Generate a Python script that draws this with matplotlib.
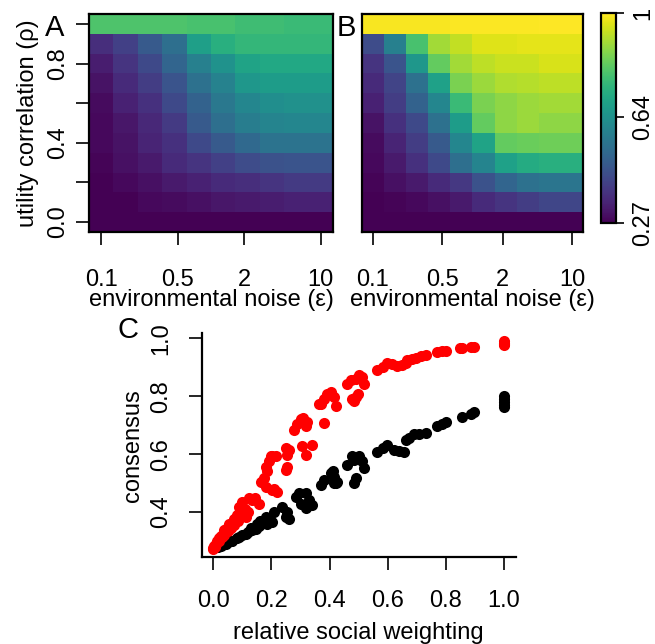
import numpy as np
import matplotlib
matplotlib.use("Agg")
import matplotlib.pyplot as plt

plt.rcParams['font.family'] = ['Liberation Sans', 'DejaVu Sans']
plt.rcParams['font.size'] = 17

# ---- heatmap grid -------------------------------------------------------
noise = [0.1, 0.167, 0.278, 0.464, 0.774, 1.29, 2.15, 3.59, 5.99, 10.0]
rho = [0.0, 0.1, 0.2, 0.3, 0.4, 0.5, 0.6, 0.7, 0.8, 0.9, 1.0]

# consensus, rows = rho (0 -> 1), columns = noise
consensus_A = [
    [0.270, 0.270, 0.270, 0.270, 0.270, 0.270, 0.270, 0.270, 0.270, 0.270],
    [0.270, 0.272, 0.285, 0.292, 0.299, 0.314, 0.321, 0.328, 0.336, 0.336],
    [0.272, 0.285, 0.299, 0.321, 0.336, 0.358, 0.365, 0.380, 0.394, 0.394],
    [0.277, 0.299, 0.321, 0.358, 0.380, 0.409, 0.438, 0.453, 0.460, 0.460],
    [0.285, 0.307, 0.343, 0.372, 0.431, 0.474, 0.518, 0.547, 0.547, 0.547],
    [0.285, 0.314, 0.350, 0.394, 0.474, 0.533, 0.577, 0.599, 0.606, 0.606],
    [0.292, 0.336, 0.372, 0.431, 0.496, 0.562, 0.606, 0.628, 0.635, 0.635],
    [0.307, 0.358, 0.401, 0.460, 0.540, 0.591, 0.657, 0.672, 0.672, 0.672],
    [0.328, 0.380, 0.431, 0.504, 0.584, 0.642, 0.693, 0.708, 0.708, 0.708],
    [0.365, 0.409, 0.474, 0.533, 0.679, 0.730, 0.752, 0.752, 0.752, 0.752],
    [0.796, 0.796, 0.796, 0.796, 0.788, 0.788, 0.774, 0.774, 0.766, 0.766],
]
consensus_B = [
    [0.270, 0.270, 0.270, 0.270, 0.270, 0.270, 0.270, 0.270, 0.270, 0.270],
    [0.270, 0.277, 0.285, 0.299, 0.321, 0.358, 0.380, 0.401, 0.423, 0.423],
    [0.277, 0.299, 0.321, 0.358, 0.387, 0.453, 0.504, 0.540, 0.555, 0.555],
    [0.285, 0.321, 0.372, 0.431, 0.533, 0.599, 0.686, 0.715, 0.730, 0.730],
    [0.292, 0.343, 0.401, 0.474, 0.606, 0.693, 0.825, 0.832, 0.839, 0.839],
    [0.307, 0.372, 0.431, 0.540, 0.672, 0.825, 0.876, 0.891, 0.876, 0.876],
    [0.336, 0.401, 0.496, 0.606, 0.766, 0.854, 0.876, 0.891, 0.898, 0.898],
    [0.358, 0.416, 0.540, 0.686, 0.854, 0.891, 0.912, 0.920, 0.927, 0.927],
    [0.380, 0.460, 0.657, 0.825, 0.898, 0.927, 0.942, 0.942, 0.956, 0.956],
    [0.438, 0.584, 0.788, 0.898, 0.934, 0.964, 0.964, 0.971, 0.971, 0.971],
    [0.993, 0.993, 0.993, 0.993, 0.995, 0.995, 0.997, 0.997, 1.000, 1.000],
]
noise_ticks = [0.1, 0.5, 2, 10]
noise_ticklabels = ["0.1", "0.5", "2", "10"]
rho_ticks = [0.0, 0.2, 0.4, 0.6, 0.8, 1.0]
rho_ticklabels = ["0.0", "", "0.4", "", "0.8", ""]
cbar_ticks = [0.27, 0.64, 1.0]
cbar_ticklabels = ["0.27", "0.64", "1"]

# ---- consensus vs. relative social weighting -----------------------------
red_x = [1.0, 1.0, 1.0, 1.0, 0.897, 0.886, 0.857, 0.849, 0.80, 0.788, 0.771,
         0.73, 0.713, 0.696, 0.684, 0.667, 0.662, 0.650, 0.633, 0.616, 0.599,
         0.582, 0.564, 0.518, 0.513, 0.501, 0.490, 0.461, 0.472, 0.496, 0.49,
         0.484, 0.404, 0.415, 0.421, 0.392, 0.381, 0.369, 0.363, 0.478,
         0.300, 0.289, 0.277, 0.318, 0.381, 0.310, 0.322,
         0.249, 0.255, 0.318, 0.341, 0.306, 0.214, 0.260,
         0.203, 0.191, 0.180, 0.186, 0.249, 0.255, 0.200,
         0.163, 0.180, 0.203, 0.220, 0.174, 0.210,
         0.123, 0.100, 0.088, 0.094, 0.111, 0.134, 0.157, 0.145,
         0.071, 0.054, 0.036, 0.025, 0.014, 0.002, 0.0, 0.0, 0.005, 0.010,
         0.020, 0.030, 0.040, 0.045, 0.060, 0.065, 0.075, 0.080, 0.090, 0.020,
         0.035, 0.050, 0.060, 0.070, 0.085, 0.100, 0.120, 0.110]
red_y = [0.980, 0.985, 0.990, 0.978, 0.971, 0.969, 0.968, 0.966, 0.957, 0.956,
         0.952, 0.942, 0.938, 0.934, 0.930, 0.927, 0.915, 0.907, 0.905, 0.911,
         0.915, 0.901, 0.892, 0.843, 0.866, 0.872, 0.860, 0.843, 0.855, 0.808,
         0.796, 0.782, 0.814, 0.796, 0.767, 0.808, 0.790, 0.773, 0.773, 0.790,
         0.720, 0.703, 0.685, 0.697, 0.709, 0.725, 0.712,
         0.621, 0.598, 0.598, 0.633, 0.627, 0.592, 0.615,
         0.592, 0.575, 0.557, 0.540, 0.545, 0.557, 0.595,
         0.505, 0.487, 0.476, 0.470, 0.516, 0.480,
         0.447, 0.435, 0.417, 0.400, 0.383, 0.441, 0.429, 0.450,
         0.377, 0.359, 0.336, 0.318, 0.301, 0.283, 0.272, 0.275, 0.280, 0.290,
         0.300, 0.315, 0.330, 0.340, 0.350, 0.360, 0.370, 0.390, 0.380, 0.310,
         0.320, 0.335, 0.345, 0.355, 0.370, 0.390, 0.400, 0.410]
black_x = [1.0, 1.0, 1.0, 1.0, 1.0, 0.897, 0.886, 0.857, 0.80, 0.788, 0.771,
           0.73, 0.708, 0.69, 0.673, 0.662, 0.656, 0.639, 0.621, 0.599, 0.582,
           0.564, 0.518, 0.513, 0.501, 0.484, 0.461, 0.478, 0.49, 0.484,
           0.41, 0.415, 0.421, 0.404, 0.381, 0.369, 0.415, 0.427,
           0.283, 0.295, 0.318, 0.329, 0.341, 0.318, 0.300,
           0.237, 0.255, 0.249, 0.260, 0.209, 0.203, 0.186,
           0.180, 0.174, 0.157, 0.146, 0.134,
           0.111, 0.088, 0.065, 0.042, 0.025, 0.008, 0.120, 0.100, 0.080,
           0.060, 0.050, 0.030, 0.015, 0.130, 0.150, 0.160]
black_y = [0.802, 0.790, 0.780, 0.770, 0.762, 0.744, 0.738, 0.729, 0.712, 0.703,
           0.697, 0.674, 0.670, 0.668, 0.656, 0.650, 0.607, 0.612, 0.615, 0.633,
           0.621, 0.607, 0.551, 0.575, 0.592, 0.580, 0.563, 0.592, 0.516, 0.499,
           0.540, 0.522, 0.499, 0.534, 0.510, 0.493, 0.499, 0.505,
           0.452, 0.464, 0.464, 0.441, 0.423, 0.412, 0.429,
           0.417, 0.400, 0.383, 0.377, 0.400, 0.365, 0.359,
           0.383, 0.365, 0.353, 0.342, 0.336,
           0.324, 0.313, 0.301, 0.289, 0.283, 0.278, 0.330, 0.320, 0.310,
           0.300, 0.295, 0.285, 0.280, 0.345, 0.360, 0.370]

# ---- layout (pixel boxes -> figure fractions) ----------------------------
W, H = 655, 644


def box(x0, y0, x1, y1):
    return [x0 / W, 1 - y1 / H, (x1 - x0) / W, (y1 - y0) / H]


fig = plt.figure(figsize=(W / 100, H / 100), dpi=100)
axA = fig.add_axes(box(89, 14, 333, 232))
axB = fig.add_axes(box(361.7, 14, 583.3, 232))
cax = fig.add_axes(box(600.7, 13.3, 615.7, 223.3))
axC = fig.add_axes(box(201.7, 333, 515.7, 557.3))

# cell edges: geometric midpoints along noise, linear along rho
lg = np.log10(noise)
lmid = (lg[:-1] + lg[1:]) / 2
ledge = np.concatenate([[lg[0] - (lmid[0] - lg[0])], lmid, [lg[-1] + (lg[-1] - lmid[-1])]])
x_edges = 10 ** ledge
r = np.asarray(rho)
rmid = (r[:-1] + r[1:]) / 2
y_edges = np.concatenate([[r[0] - (rmid[0] - r[0])], rmid, [r[-1] + (r[-1] - rmid[-1])]])

vmin, vmax = 0.27, 1.0
TICK_LEN = 9.5
for ax, data in ((axA, consensus_A), (axB, consensus_B)):
    mesh = ax.pcolormesh(x_edges, y_edges, np.asarray(data), cmap="viridis",
                         vmin=vmin, vmax=vmax, shading="flat", rasterized=True)
    ax.set_xscale("log")
    ax.set_xlim(x_edges[0], x_edges[-1])
    ax.set_ylim(y_edges[0], y_edges[-1])
    ax.set_xticks(noise_ticks)
    ax.set_xticklabels(noise_ticklabels)
    ax.xaxis.set_minor_locator(matplotlib.ticker.NullLocator())
    ax.tick_params(axis="x", length=TICK_LEN, width=1.2, pad=17, direction="out")
    ax.set_xlabel("environmental noise (\u03b5)", labelpad=-1)
    for sp in ax.spines.values():
        sp.set_linewidth(1.6)

axA.set_yticks(rho_ticks)
axA.set_yticklabels(rho_ticklabels)
axA.tick_params(axis="y", length=TICK_LEN, width=1.2, pad=5, direction="out")
for lbl in axA.get_yticklabels():
    lbl.set_rotation(90)
    lbl.set_va("center")
axA.set_ylabel("utility correlation (\u03c1)", labelpad=6)
axB.set_yticks([])

cb = fig.colorbar(mesh, cax=cax)
cb.outline.set_linewidth(1.6)
cb.set_ticks(cbar_ticks)
cb.set_ticklabels(cbar_ticklabels)
cax.tick_params(axis="y", length=6, width=1.2, pad=6, direction="out")
for lbl in cax.get_yticklabels():
    lbl.set_rotation(90)
    lbl.set_va("center")
    lbl.set_ha("left")

# ---- panel C ------------------------------------------------------------
axC.scatter(black_x, black_y, s=64, c="black", linewidths=0, zorder=3)
axC.scatter(red_x, red_y, s=64, c="#ff0000", linewidths=0, zorder=4)
all_y = np.concatenate([red_y, black_y])
all_x = np.concatenate([red_x, black_x])
ext_y = 0.04 * (all_y.max() - all_y.min())
ext_x = 0.04 * (all_x.max() - all_x.min())
axC.set_xlim(all_x.min() - ext_x, all_x.max() + ext_x)
axC.set_ylim(all_y.min() - ext_y, all_y.max() + ext_y)
axC.set_xticks([0.0, 0.2, 0.4, 0.6, 0.8, 1.0])
axC.set_xticklabels(["0.0", "0.2", "0.4", "0.6", "0.8", "1.0"])
axC.set_yticks([0.4, 0.6, 0.8, 1.0])
axC.set_yticklabels(["0.4", "0.6", "0.8", "1.0"])
axC.tick_params(axis="x", length=TICK_LEN, width=1.2, pad=14, direction="out")
axC.tick_params(axis="y", length=TICK_LEN, width=1.2, pad=12, direction="out")
for lbl in axC.get_yticklabels():
    lbl.set_rotation(90)
    lbl.set_va("center")
axC.spines["top"].set_visible(False)
axC.spines["right"].set_visible(False)
axC.spines["left"].set_linewidth(1.6)
axC.spines["bottom"].set_linewidth(1.6)
axC.set_xlabel("relative social weighting", labelpad=7)
axC.set_ylabel("consensus", labelpad=4)

# panel letters
fig.text(55 / W, 1 - 28 / H, "A", fontsize=21, ha="center", va="center")
fig.text(346 / W, 1 - 28 / H, "B", fontsize=21, ha="center", va="center")
fig.text(128 / W, 1 - 330 / H, "C", fontsize=21, ha="center", va="center")

fig.savefig("out.png", dpi=100)
